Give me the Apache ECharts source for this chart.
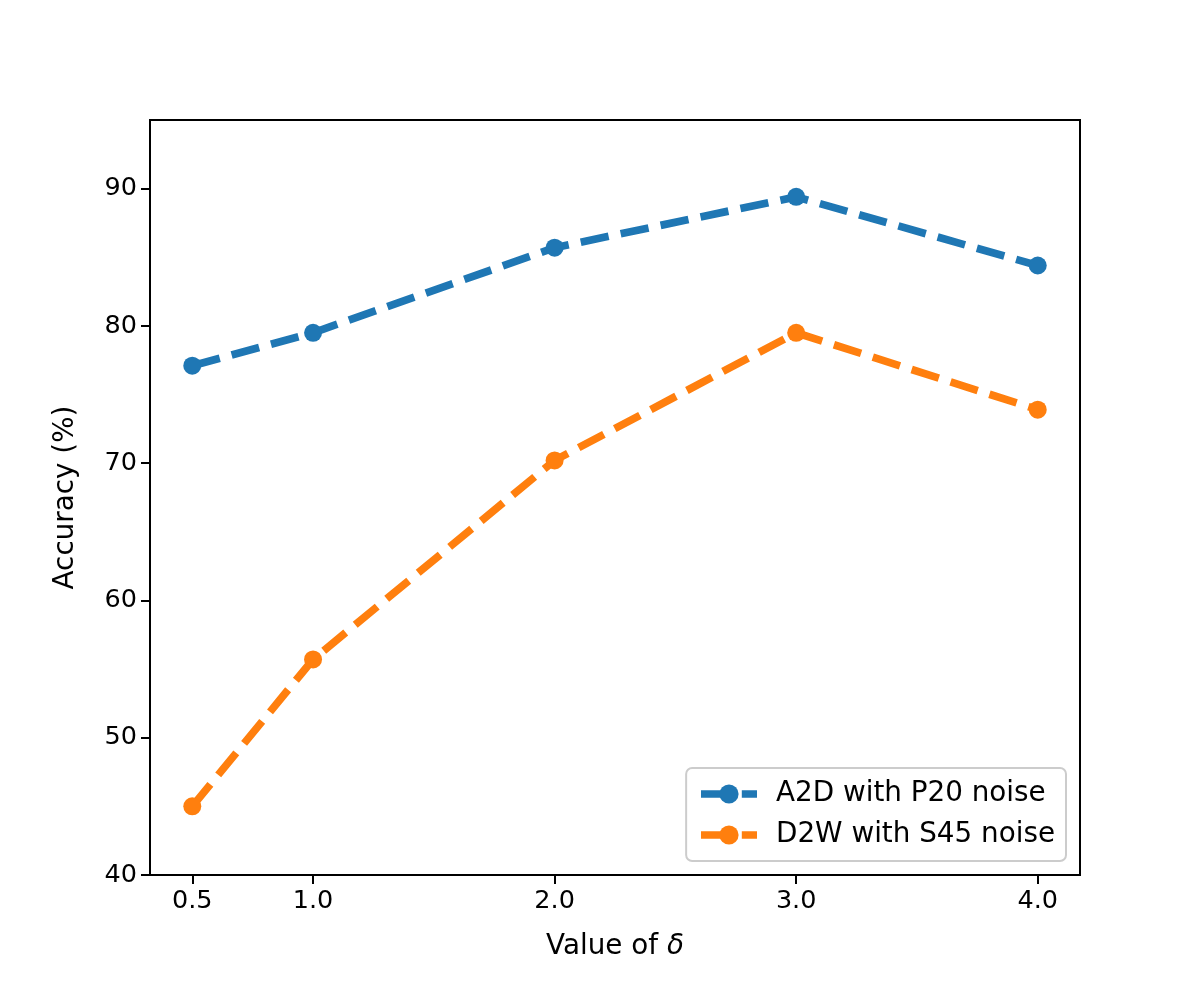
<!DOCTYPE html>
<html>
<head>
<meta charset="utf-8">
<script src="https://cdn.jsdelivr.net/npm/echarts@6/dist/echarts.min.js"></script>
<style>html,body{margin:0;padding:0;background:#fff}#c{width:1200px;height:1000px}</style>
</head>
<body>
<div id="c"></div>
<script>
var deltas = [0.5, 1.0, 2.0, 3.0, 4.0];
var a2d = [77.1, 79.5, 85.7, 89.4, 84.4];
var d2w = [45.0, 55.7, 70.2, 79.5, 73.9];
var xTicks = [0.5, 1.0, 2.0, 3.0, 4.0];
var yTicks = [40, 50, 60, 70, 80, 90];
var seriesNames = ['A2D with P20 noise', 'D2W with S45 noise'];

function pairs(xs, ys) { return xs.map(function (x, i) { return [x, ys[i]]; }); }

var font = 'DejaVu Sans';
var fs = 25.5;
var fsBig = 27.8;
var chart = echarts.init(document.getElementById('c'), null, { renderer: 'canvas' });
var lineW = 7.7;
var dash = [28.5, 12.3];
function mkSeries(name, data, color) {
  return {
    name: name, type: 'line', data: data,
    symbol: 'circle', symbolSize: 18,
    itemStyle: { color: color },
    lineStyle: { color: color, width: lineW, type: dash, cap: 'butt' },
    emphasis: { disabled: true }, animation: false
  };
}
chart.setOption({
  animation: false,
  textStyle: { fontFamily: font },
  grid: { left: 150, right: 120, top: 120, bottom: 125, show: true, borderColor: '#000', borderWidth: 2, backgroundColor: 'transparent' },
  xAxis: {
    type: 'value', min: 0.325, max: 4.175,
    name: '{a|Value of }{b|δ}', nameLocation: 'middle', nameGap: 58,
    nameTextStyle: { rich: { a: { fontFamily: font, fontSize: fsBig, color: '#000' }, b: { fontFamily: font, fontSize: fsBig, fontStyle: 'italic', color: '#000' } } },
    axisLine: { show: true, onZero: false, lineStyle: { color: '#000', width: 2 } },
    axisTick: { show: true, length: 9, lineStyle: { color: '#000', width: 2 }, customValues: xTicks },
    axisLabel: { fontFamily: font, fontSize: fs, color: '#000', margin: 13, customValues: xTicks, formatter: function (v) { return v.toFixed(1); } },
    splitLine: { show: false }
  },
  yAxis: {
    type: 'value', min: 40, max: 95,
    name: 'Accuracy (%)', nameLocation: 'middle', nameGap: 70, nameRotate: 90,
    nameTextStyle: { fontFamily: font, fontSize: fsBig, color: '#000' },
    axisLine: { show: true, onZero: false, lineStyle: { color: '#000', width: 2 } },
    axisTick: { show: true, length: 9, lineStyle: { color: '#000', width: 2 }, customValues: yTicks },
    axisLabel: { fontFamily: font, fontSize: fs, color: '#000', margin: 13, customValues: yTicks },
    splitLine: { show: false }
  },
  legend: {
    orient: 'vertical', right: 134, bottom: 139,
    data: seriesNames,
    itemWidth: 56, itemHeight: 24, itemGap: 13,
    padding: [12, 11, 12, 11],
    lineStyle: { width: lineW, type: dash, cap: 'butt' },
    backgroundColor: 'rgba(255,255,255,0.8)', borderColor: '#cccccc', borderWidth: 2, borderRadius: 6,
    textStyle: { fontFamily: font, fontSize: fsBig, color: '#000', padding: [0, 0, 0, 14] },
    selectedMode: false
  },
  series: [
    mkSeries(seriesNames[0], pairs(deltas, a2d), '#1f77b4'),
    mkSeries(seriesNames[1], pairs(deltas, d2w), '#ff7f0e')
  ]
});
</script>
</body>
</html>
